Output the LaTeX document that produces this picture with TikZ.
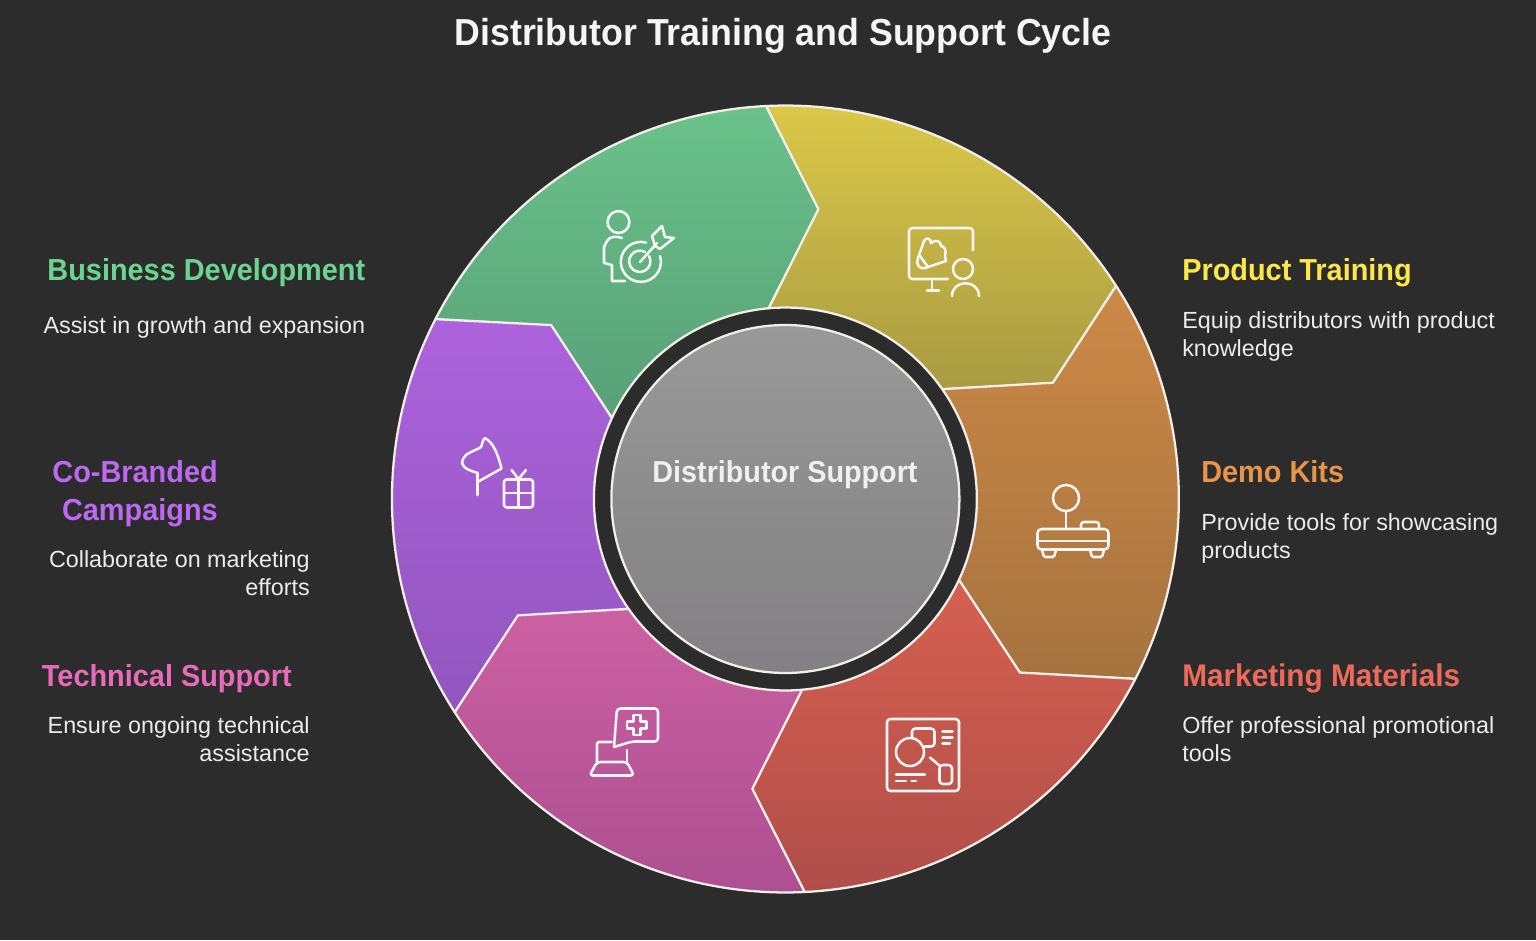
\documentclass[tikz,border=0pt]{standalone}
\usepackage{fontspec}
\setmainfont{Liberation Sans}[FakeStretch=0.95]
\newfontfamily\bodyfont{Liberation Sans}
\usetikzlibrary{calc}
\definecolor{bgc}{HTML}{2C2C2C}
\definecolor{linec}{HTML}{F2EEE9}
\definecolor{gt}{HTML}{6AC28A}\definecolor{gb}{HTML}{58A078}
\definecolor{yt}{HTML}{DCC948}\definecolor{yb}{HTML}{A89B42}
\definecolor{ot}{HTML}{CC8946}\definecolor{ob}{HTML}{A6733F}
\definecolor{rt}{HTML}{D6604F}\definecolor{rb}{HTML}{B04E4A}
\definecolor{pt}{HTML}{CC60A2}\definecolor{pb}{HTML}{AC4F90}
\definecolor{vt}{HTML}{AC62DC}\definecolor{vb}{HTML}{9256BE}
\definecolor{ct}{HTML}{999999}\definecolor{cb}{HTML}{828082}
\definecolor{hgreen}{HTML}{6BD490}
\definecolor{hyellow}{HTML}{FDE64C}
\definecolor{horange}{HTML}{E8944A}
\definecolor{hred}{HTML}{EC6A5C}
\definecolor{hpink}{HTML}{E86BBB}
\definecolor{hviolet}{HTML}{BC68F0}
\tikzset{
  iconline/.style={draw=white!96!black,line width=1.9pt,line cap=round,line join=round},
  seg/.style={draw=linec,line width=1.7pt,line join=round},
  headtxt/.style={font=\bfseries\fontsize{22.8}{28.5}\selectfont,inner sep=0pt},
  bodytxt/.style={font=\bodyfont\fontsize{17.5}{21}\selectfont,text=white!92!black,inner sep=0pt},
}
\newcommand{\segment}[3]{%
  \path[seg,top color=#2,bottom color=#3]
    ([shift={(92.8-#1:295.1pt)}]c) arc[start angle=92.8-#1,end angle=32.8-#1,radius=295.1pt]
    -- ([shift={(23.4-#1:218.8pt)}]c)
    -- ([shift={(35-#1:143.6pt)}]c) arc[start angle=35-#1,end angle=95-#1,radius=143.6pt]
    -- ([shift={(83.5-#1:218.8pt)}]c) -- cycle;
}
\begin{document}
\begin{tikzpicture}[x=0.75pt,y=-0.75pt]
\useasboundingbox (0,0) rectangle (1536,940);
\fill[bgc] (0,0) rectangle (1536,940);
\coordinate (c) at (785.4,499);

\segment{-60}{gt}{gb}
\segment{0}{yt}{yb}
\segment{60}{ot}{ob}
\segment{120}{rt}{rb}
\segment{180}{pt}{pb}
\segment{240}{vt}{vb}

\path[top color=ct,bottom color=cb,draw=linec,line width=1.7pt] (c) circle[radius=130.5pt];

% green icon
\draw[iconline] (618.5,222) circle[radius=8.2pt];
\draw[iconline] (622,238) .. controls (616,236) and (610,236) .. (607,241) -- (604,247) -- (604,263) -- (612,265) -- (612,281) -- (625,281);
\draw[iconline] (660,256) arc[start angle=17,end angle=-285,radius=15pt];
\draw[iconline] (649,256) arc[start angle=30,end angle=-300,radius=8pt];
\draw[iconline] (640,262) -- (657,243);
\draw[iconline] (662,226) -- (652,236) -- (655,246) -- (660,249) -- (674,238) -- (665,237) -- cycle;

% yellow icon
\draw[iconline,rounded corners=2.5pt] (973,250) -- (973,228) -- (909,228) -- (909,279) -- (948,279);
\draw[iconline] (932,279) -- (932,290.7) (927,290.7) -- (939,290.7);
\draw[iconline] (963,269) circle[radius=7.5pt];
\draw[iconline] (952,296) .. controls (952,279) and (979,279) .. (979,296);
\draw[iconline] (918,258) -- (924,241) .. controls (926,237) and (931,238) .. (931,243) .. controls (936,239) and (941,241) .. (941,246) .. controls (946,246) and (946,253) .. (945,256) -- (946,261) -- (925,268) .. controls (920,270) and (915,264) .. (918,258) -- cycle;
\draw[iconline] (920,256) -- (928,267);

% orange icon
\draw[iconline] (1066,498) circle[radius=9.8pt];
\draw[iconline] (1066,511.5) -- (1066,528);
\draw[iconline,rounded corners=3pt] (1037.5,529) rectangle (1108.5,549.5);
\draw[iconline] (1037.5,541) -- (1108.5,541);
\draw[iconline,rounded corners=2pt] (1081,528) -- (1081,522) -- (1099,522) -- (1099,528);
\draw[iconline,rounded corners=1pt] (1042,550) -- (1044,557) -- (1054,557) -- (1056,550);
\draw[iconline,rounded corners=1pt] (1090,550) -- (1092,557) -- (1102,557) -- (1104,550);

% red icon
\draw[iconline,rounded corners=2.5pt] (887,719) rectangle (959,791);
\draw[iconline] (910,752) circle[radius=10.5pt];
\draw[iconline,rounded corners=2.5pt] (912,737) -- (912,728.5) -- (934.5,728.5) -- (934.5,746.5) -- (924.5,746.5);
\draw[iconline] (942.5,731.5) -- (952.5,731.5) (942.5,737.5) -- (952.5,737.5) (942.5,743.5) -- (950,743.5);
\draw[iconline] (930,757.5) -- (940,766);
\draw[iconline,rounded corners=2.5pt] (939.5,765) rectangle (952,784);
\draw[iconline] (896,774.5) -- (925,774.5) (896,781) -- (906,781) (911.5,781) -- (916,781);

% pink icon
\draw[iconline,rounded corners=2.5pt] (614,747) -- (617,708.5) -- (658,708.5) -- (658,741.5) -- (632,741.5) -- (614,747);
\draw[iconline] (633.5,715) -- (640.5,715) -- (640.5,721.5) -- (646.5,721.5) -- (646.5,728.5) -- (640.5,728.5) -- (640.5,735) -- (633.5,735) -- (633.5,728.5) -- (627,728.5) -- (627,721.5) -- (633.5,721.5) -- cycle;
\draw[iconline,rounded corners=1.5pt] (611.5,742) -- (597,742) -- (597,764);
\draw[iconline] (627,750) -- (627,764);
\draw[iconline,rounded corners=2.5pt] (597,762) -- (589.5,775.5) -- (634,775.5) -- (627,762) -- cycle;

% purple icon
\draw[iconline] (477.5,495) -- (477.5,473);
\draw[iconline] (477.5,482) -- (501.5,468.5) .. controls (498,455) and (494,443) .. (485,438) .. controls (482,440) and (483,444) .. (481,447) .. controls (475,451) and (465,453) .. (463,459) .. controls (460,466) and (465,469) .. (477.5,473);
\draw[iconline,rounded corners=2pt] (504,479.5) rectangle (533,507.5);
\draw[iconline] (504,493) -- (533,493) (518.5,479.5) -- (518.5,507.5);
\draw[iconline] (511.5,470) -- (518.5,479) -- (526,470);

% texts
\node[font=\bfseries\fontsize{28.2}{33}\selectfont,text=white!96!black,inner sep=0pt,anchor=base] (title) at (783,45.5) {Distributor Training and Support Cycle};
\node[font=\bfseries\fontsize{22.7}{27}\selectfont,text=white!94!black,inner sep=0pt,anchor=base] (centre) at (785,482) {Distributor Support};

\node[headtxt,text=hgreen,anchor=base east] (h1) at (365.5,280) {Business Development};
\node[bodytxt,anchor=base east] (b1) at (365.5,333) {Assist in growth and expansion};
\node[headtxt,text=hyellow,anchor=base west] (h2) at (1182,280) {Product Training};
\node[bodytxt,anchor=base west] (b2a) at (1182,328) {Equip distributors with product};
\node[bodytxt,anchor=base west] (b2b) at (1182,356) {knowledge};
\node[headtxt,text=horange,anchor=base west] (h3) at (1201,482) {Demo Kits};
\node[bodytxt,anchor=base west] (b3a) at (1201,530) {Provide tools for showcasing};
\node[bodytxt,anchor=base west] (b3b) at (1201,558) {products};
\node[headtxt,font=\bfseries\fontsize{23.5}{28.5}\selectfont,text=hred,anchor=base west] (h4) at (1182,686) {Marketing Materials};
\node[bodytxt,anchor=base west] (b4a) at (1182,733) {Offer professional promotional};
\node[bodytxt,anchor=base west] (b4b) at (1182,761) {tools};
\node[headtxt,text=hpink,anchor=base east] (h5) at (292,686) {Technical Support};
\node[bodytxt,anchor=base east] (b5a) at (310,733) {Ensure ongoing technical};
\node[bodytxt,anchor=base east] (b5b) at (310,761) {assistance};
\node[headtxt,text=hviolet,anchor=base east] (h6a) at (218,482) {Co-Branded};
\node[headtxt,text=hviolet,anchor=base east] (h6b) at (218,520) {Campaigns};
\node[bodytxt,anchor=base east] (b6a) at (310,567) {Collaborate on marketing};
\node[bodytxt,anchor=base east] (b6b) at (310,595) {efforts};
\end{tikzpicture}
\end{document}
